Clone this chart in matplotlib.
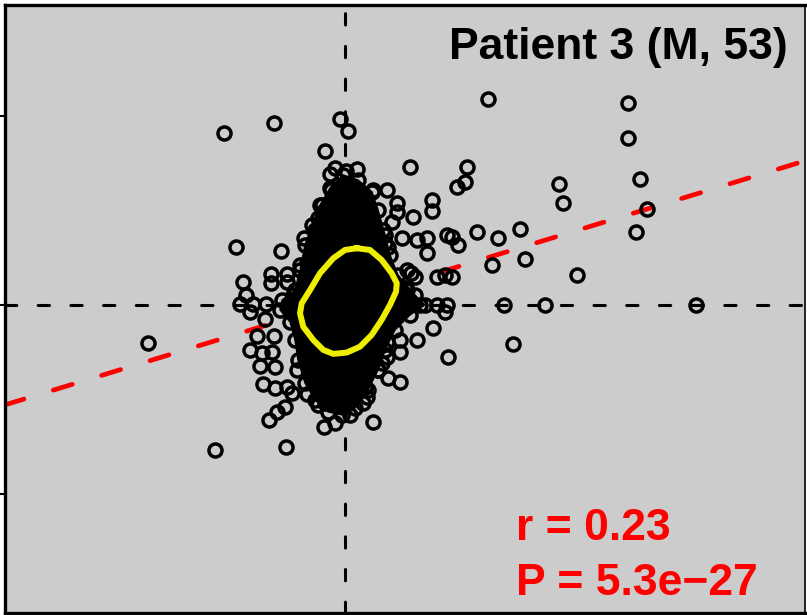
import matplotlib
matplotlib.use("Agg")
import matplotlib.pyplot as plt

### data (units: y ticks at -1, 0, 1)

# single circles that can still be told apart
pts_x = [-0.640, -0.376, -0.026, 0.016, -0.106, -0.053, -0.079, 0.005, 0.063, -0.074,
         -0.122, -0.116, -0.143, -0.159, -0.217, -0.577, -0.339, -0.238, -0.201, -0.392,
         -0.392, -0.307, -0.307, -0.540, -0.524, -0.275, -0.556, -0.487, -0.418, -0.503,
         -0.423, -1.042, -0.466, -0.376, -0.503, -0.439, -0.386, -0.450, -0.370, -0.434,
         -0.370, -0.307, -0.280, -0.201, -0.254, -0.317, -0.360, -0.402, -0.143, -0.106,
         -0.111, -0.053, 0.026, 0.095, 0.116, 0.148, -0.688, -0.312, 0.466, 0.381,
         0.545, 0.291, 0.291, 0.222, 0.228, 0.291, 0.175, 0.196, 0.222, 0.106,
         0.487, 0.540, 0.529, 0.328, 0.344, 0.646, 0.635, 0.593, 0.460, 0.460,
         0.360, 0.275, 0.275, 0.222, 0.148, 0.249, 0.302, 0.381, 0.434, 0.434,
         0.540, 0.566, 0.598, 0.698, 0.328, 0.370, 0.487, 0.529, 0.566, 0.317,
         0.228, 0.201, 0.148, 0.212, 0.757, 1.497, 1.497, 1.561, 1.598, 1.540,
         1.132, 1.153, 1.228, 1.857, 1.058, 0.841, 0.926, 0.952, 0.810, 0.778,
         0.889, 0.349, 0.344, 0.397]
pts_y = [0.910, 0.963, 0.984, 0.921, 0.815, 0.725, 0.693, 0.709, 0.720, 0.608,
         0.529, 0.492, 0.460, 0.397, 0.354, 0.307, 0.286, 0.212, 0.222, 0.164,
         0.116, 0.164, 0.122, 0.122, 0.053, 0.053, 0.005, 0.005, 0.005, -0.037,
         -0.074, -0.201, -0.164, -0.164, -0.238, -0.254, -0.249, -0.323, -0.328, -0.418,
         -0.439, -0.434, -0.466, -0.471, -0.344, -0.540, -0.566, -0.608, -0.529, -0.519,
         -0.646, -0.624, -0.582, -0.519, -0.487, -0.619, -0.767, -0.751, -0.122, -0.185,
         -0.275, -0.185, -0.249, -0.196, -0.386, -0.407, -0.344, -0.307, -0.275, -0.434,
         0.0, 0.0, -0.037, 0.079, 0.730, 0.730, 0.651, 0.624, 0.556, 0.497,
         0.466, 0.540, 0.492, 0.608, 0.608, 0.439, 0.354, 0.344, 0.354, 0.275,
         0.370, 0.360, 0.317, 0.386, 0.185, 0.148, 0.148, 0.159, 0.148, 0.090,
         0.307, 0.397, 0.360, 0.328, 1.090, 1.069, 0.884, 0.667, 0.508, 0.386,
         0.640, 0.540, 0.159, 0.0, 0.0, 0.0, 0.402, 0.243, 0.354, 0.212,
         -0.206, 0.169, 0.011, 0.0]

# outline of the solid black mass where the circles all overlap
# (circles also sit on this outline)
core_x = [-0.011, 0.069, 0.143, 0.175, 0.212, 0.238, 0.280, 0.370, 0.423, 0.344,
          0.265, 0.212, 0.175, 0.122, 0.053, -0.016, -0.090, -0.159, -0.212, -0.249,
          -0.265, -0.291, -0.344, -0.333, -0.265, -0.238, -0.212, -0.175, -0.132, -0.079]
core_y = [0.688, 0.661, 0.598, 0.503, 0.370, 0.265, 0.159, 0.053, 0.0, -0.053,
          -0.132, -0.238, -0.344, -0.450, -0.545, -0.582, -0.566, -0.503, -0.413, -0.291,
          -0.185, -0.090, -0.026, 0.026, 0.079, 0.185, 0.317, 0.423, 0.529, 0.619]

# yellow density contour
cont_x = [0.062, 0.132, 0.194, 0.247, 0.274, 0.270, 0.238, 0.194, 0.141, 0.079, 0.009,
          -0.062, -0.115, -0.168, -0.221, -0.238, -0.229, -0.185, -0.132, -0.062, 0.0]
cont_y = [0.300, 0.291, 0.238, 0.168, 0.115, 0.070, 0.0, -0.079, -0.159, -0.221, -0.252,
          -0.259, -0.238, -0.185, -0.115, -0.044, 0.009, 0.079, 0.168, 0.247, 0.291]

# regression line
fit_a = 0.02
fit_b = 0.305

title = "Patient 3 (M, 53)"
r_text = "r = 0.23"
p_text = "P = 5.3e\u221227"

### plot

fig = plt.figure(figsize=(8.07, 6.15), dpi=100)
ax = fig.add_axes([5 / 807, 2 / 615, 800 / 807, 608 / 615])
ax.set_facecolor("#CCCCCC")

ax.axhline(0, color="black", lw=2.2, dashes=(3.7, 7), dash_capstyle="round", zorder=1)
ax.axvline(0, color="black", lw=2.2, dashes=(3.7, 7), dash_capstyle="round", zorder=1)
ax.axline((0, fit_a), slope=fit_b, color="#FF0000", lw=3.4, dashes=(4.2, 6.5),
          dash_capstyle="round", zorder=2)

circ = dict(ls="none", marker="o", ms=9.4, mfc="none", mec="black", mew=2.5, zorder=4)
ax.plot(pts_x, pts_y, **circ)
ax.plot(core_x, core_y, **circ)
ax.fill(core_x, core_y, color="black", zorder=5)
ax.plot(cont_x + cont_x[:1], cont_y + cont_y[:1], color="#EEEE00", lw=4.3,
        solid_joinstyle="round", zorder=6)

ax.set_xlim(-1.799, 2.434)
ax.set_ylim(-1.630, 1.587)
ax.set_yticks([-1, 0, 1])
ax.tick_params(axis="y", direction="out", length=10, width=1.5, labelleft=False)
ax.tick_params(axis="x", bottom=False, labelbottom=False)
ax.set_xticks([])
for s in ax.spines.values():
  s.set_linewidth(2.4)
ax.spines["right"].set_linewidth(1.2)

font = {"family": "Liberation Sans", "weight": "bold", "size": 32}
ax.text(0.979, 0.911, title, ha="right", va="baseline", transform=ax.transAxes, **font)
ax.text(0.639, 0.120, r_text, ha="left", va="baseline", color="#FF0000",
        transform=ax.transAxes, **font)
ax.text(0.639, 0.030, p_text, ha="left", va="baseline", color="#FF0000",
        transform=ax.transAxes, **font)

fig.savefig("out.png", dpi=100)
